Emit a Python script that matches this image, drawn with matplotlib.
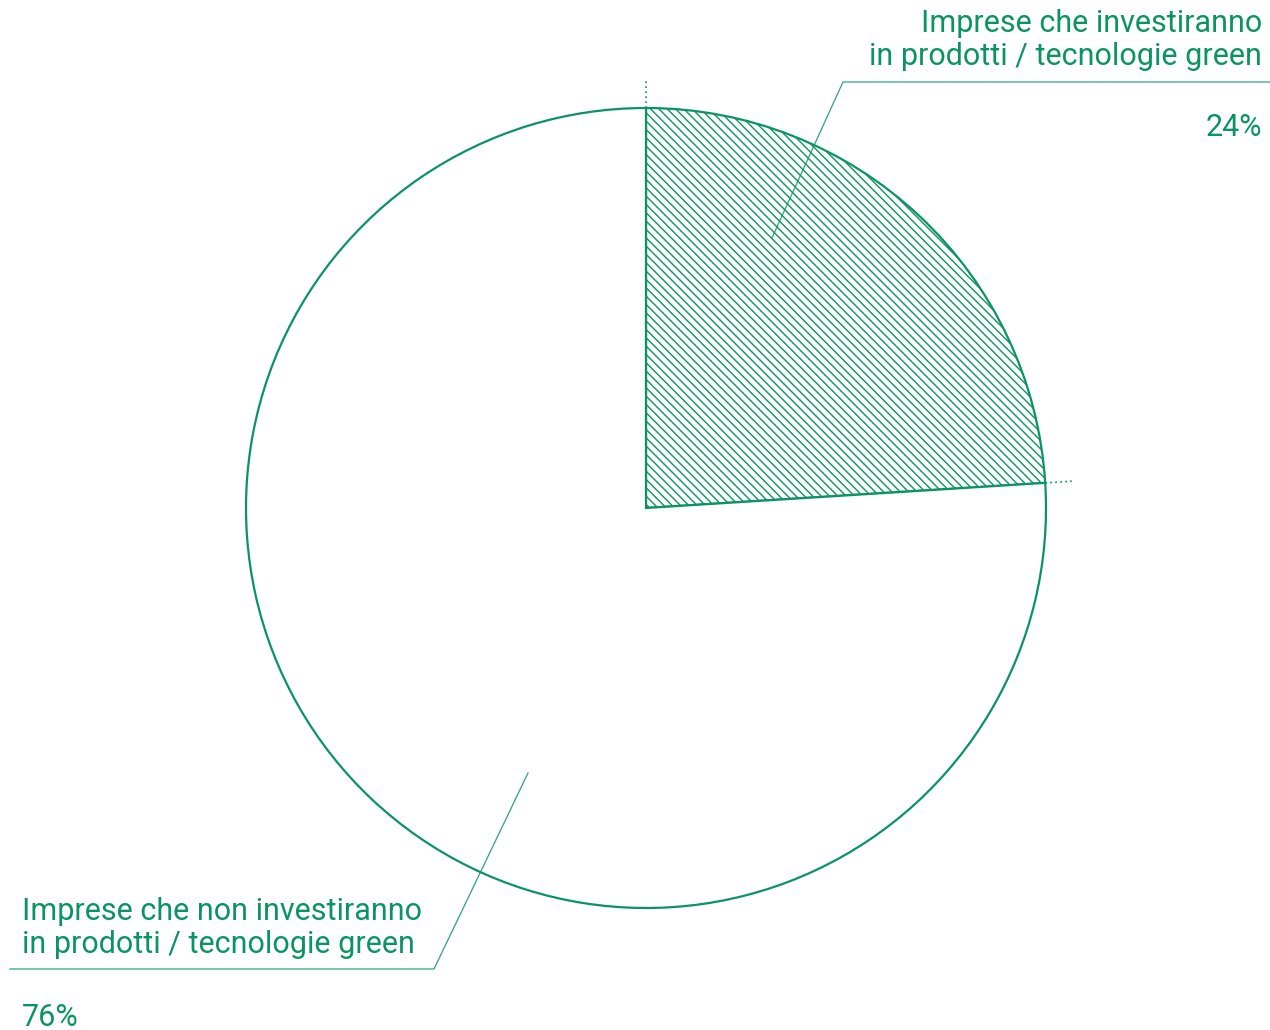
import numpy as np
import matplotlib
matplotlib.use("Agg")
import matplotlib.pyplot as plt

# Dati del grafico
etichette = ["Imprese che investiranno\nin prodotti / tecnologie green",
             "Imprese che non investiranno\nin prodotti / tecnologie green"]
valori = [24, 76]
percentuali = ["24%", "76%"]

verde = "#0a9463"
plt.rcParams['font.family'] = ['Roboto', 'DejaVu Sans']
plt.rcParams['hatch.linewidth'] = 1.0
plt.rcParams['hatch.color'] = verde

fig = plt.figure(figsize=(12.7, 10.3), dpi=100)
ax = fig.add_axes([0, 0, 1, 1])

centro = (646, 522)
raggio = 400

wedges, _ = ax.pie(valori, startangle=90, counterclock=False,
                   center=centro, radius=raggio, frame=True,
                   wedgeprops=dict(facecolor='white', edgecolor=verde, linewidth=1.6))
wedges[0].set_hatch('\\\\\\\\')
ax.set_xlim(0, 1270)
ax.set_ylim(0, 1030)
ax.set_aspect('equal')
ax.axis('off')

# Tacche tratteggiate sui bordi del primo spicchio
for ang in [wedges[0].theta1, wedges[0].theta2]:
    t = np.deg2rad(ang)
    ax.plot([centro[0] + raggio * np.cos(t), centro[0] + (raggio + 30) * np.cos(t)],
            [centro[1] + raggio * np.sin(t), centro[1] + (raggio + 30) * np.sin(t)],
            color=verde, linestyle=(0, (1, 2)), linewidth=1.2)

# Linee guida delle etichette
def linea_guida(ang, frac, gomito, x_fine):
    t = np.deg2rad(ang)
    p0 = (centro[0] + frac * raggio * np.cos(t), centro[1] + frac * raggio * np.sin(t))
    ax.plot([p0[0], gomito[0], x_fine], [p0[1], gomito[1], gomito[1]],
            color=verde, linewidth=0.9, alpha=0.85)

linea_guida(65, 0.745, (843, 948), 1270)
linea_guida(246, 0.725, (434, 61), 10)

fs = 22
ax.text(1262, 1030 - 40, etichette[0], ha='right', va='center', fontsize=fs,
        color=verde, linespacing=1.2)
ax.text(1262, 1030 - 128, percentuali[0], ha='right', va='center', fontsize=fs, color=verde)
ax.text(22, 1030 - 928, etichette[1], ha='left', va='center', fontsize=fs,
        color=verde, linespacing=1.2)
ax.text(22, 1030 - 1017, percentuali[1], ha='left', va='center', fontsize=fs, color=verde)

fig.savefig("out.png", dpi=100)
